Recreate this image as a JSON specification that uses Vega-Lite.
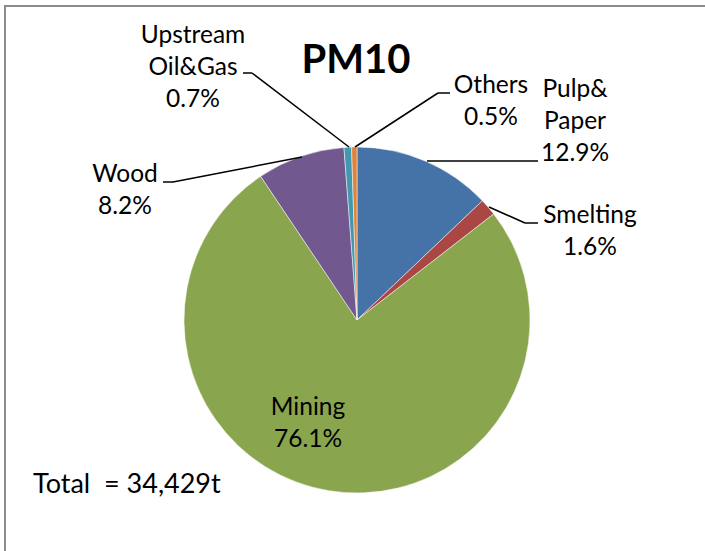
{
  "$schema": "https://vega.github.io/schema/vega-lite/v6.json",
  "width": 720,
  "height": 560,
  "padding": {"left": 5, "top": 6, "right": 0, "bottom": 0},
  "autosize": {"type": "none"},
  "background": "white",
  "config": {"view": {"stroke": "#8c8c8c", "strokeWidth": 2}},
  "datasets": {
    "pie": [
      {"sector": "Pulp&Paper", "pct": 12.9, "rank": 1},
      {"sector": "Smelting", "pct": 1.6, "rank": 2},
      {"sector": "Mining", "pct": 76.1, "rank": 3},
      {"sector": "Wood", "pct": 8.2, "rank": 4},
      {"sector": "Upstream Oil&Gas", "pct": 0.7, "rank": 5},
      {"sector": "Others", "pct": 0.5, "rank": 6}
    ],
    "leaders": [
      {"x": 243, "y": 73, "x2": 252, "y2": 73},
      {"x": 252, "y": 73, "x2": 349, "y2": 147},
      {"x": 355, "y": 147, "x2": 438, "y2": 93},
      {"x": 438, "y": 93, "x2": 450, "y2": 93},
      {"x": 427, "y": 161, "x2": 538, "y2": 161},
      {"x": 489, "y": 207, "x2": 525, "y2": 223},
      {"x": 525, "y": 223, "x2": 538, "y2": 223},
      {"x": 302, "y": 157, "x2": 173, "y2": 182},
      {"x": 173, "y": 182, "x2": 163, "y2": 182}
    ],
    "labels": [
      {"label": "Upstream\nOil&Gas\n0.7%", "x": 193, "y": 43},
      {"label": "Others\n0.5%", "x": 491, "y": 93},
      {"label": "Pulp&\nPaper\n12.9%", "x": 575, "y": 97},
      {"label": "Smelting\n1.6%", "x": 590, "y": 223},
      {"label": "Wood\n8.2%", "x": 125, "y": 182},
      {"label": "Mining\n76.1%", "x": 308, "y": 415}
    ],
    "total": [{"label": "Total\u00a0 = 34,429t", "x": 33, "y": 493}],
    "title": [{"label": "PM10", "x": 356, "y": 73}]
  },
  "layer": [
    {
      "data": {"name": "pie"},
      "mark": {"type": "arc", "outerRadius": 173, "stroke": "white", "strokeWidth": 0.5},
      "encoding": {
        "theta": {"field": "pct", "type": "quantitative", "stack": true, "scale": {"domain": [0, 100]}},
        "order": {"field": "rank", "type": "quantitative"},
        "color": {
          "field": "sector", "type": "nominal", "legend": null,
          "scale": {
            "domain": ["Pulp&Paper", "Smelting", "Mining", "Wood", "Upstream Oil&Gas", "Others"],
            "range": ["#4572A7", "#AA4643", "#89A54E", "#71588F", "#4198AF", "#DB843D"]
          }
        },
        "x": {"datum": 357, "type": "quantitative", "scale": {"domain": [5, 725]}, "axis": null},
        "y": {"datum": 320, "type": "quantitative", "scale": {"domain": [6, 566], "reverse": true}, "axis": null}
      }
    },
    {
      "data": {"name": "leaders"},
      "mark": {"type": "rule", "color": "black", "strokeWidth": 1.5},
      "encoding": {
        "x": {"field": "x", "type": "quantitative", "scale": {"domain": [5, 725]}, "axis": null},
        "y": {"field": "y", "type": "quantitative", "scale": {"domain": [6, 566], "reverse": true}, "axis": null},
        "x2": {"field": "x2"},
        "y2": {"field": "y2"}
      }
    },
    {
      "data": {"name": "labels"},
      "mark": {"type": "text", "font": "Lato", "fontSize": 24.5, "align": "center", "baseline": "alphabetic", "lineBreak": "\n", "lineHeight": 32, "color": "black"},
      "encoding": {
        "x": {"field": "x", "type": "quantitative", "scale": {"domain": [5, 725]}, "axis": null},
        "y": {"field": "y", "type": "quantitative", "scale": {"domain": [6, 566], "reverse": true}, "axis": null},
        "text": {"field": "label"}
      }
    },
    {
      "data": {"name": "total"},
      "mark": {"type": "text", "font": "Lato", "fontSize": 27, "align": "left", "baseline": "alphabetic", "color": "black"},
      "encoding": {
        "x": {"field": "x", "type": "quantitative", "scale": {"domain": [5, 725]}, "axis": null},
        "y": {"field": "y", "type": "quantitative", "scale": {"domain": [6, 566], "reverse": true}, "axis": null},
        "text": {"field": "label"}
      }
    },
    {
      "data": {"name": "title"},
      "mark": {"type": "text", "font": "Lato", "fontSize": 40, "fontWeight": "bold", "align": "center", "baseline": "alphabetic", "color": "black"},
      "encoding": {
        "x": {"field": "x", "type": "quantitative", "scale": {"domain": [5, 725]}, "axis": null},
        "y": {"field": "y", "type": "quantitative", "scale": {"domain": [6, 566], "reverse": true}, "axis": null},
        "text": {"field": "label"}
      }
    }
  ]
}
